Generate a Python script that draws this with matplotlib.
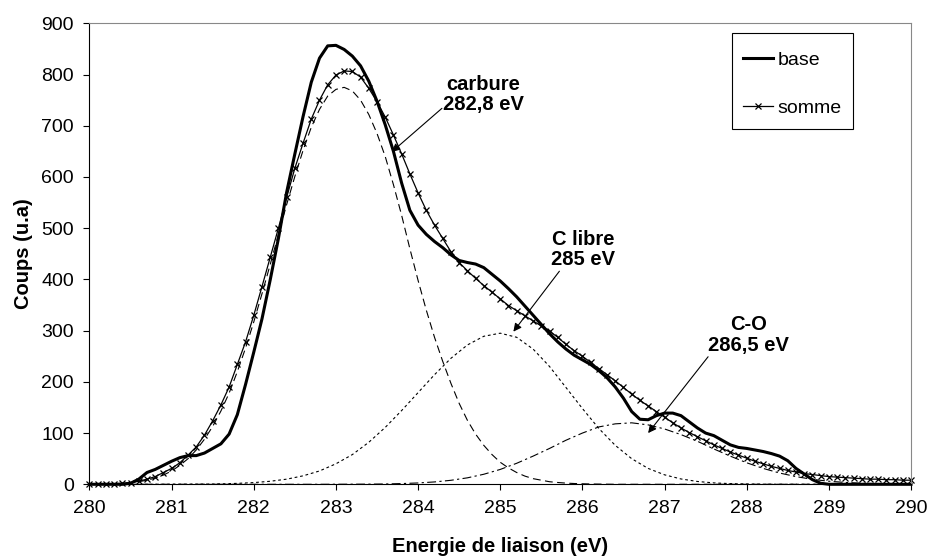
import numpy as np
import matplotlib.pyplot as plt
from matplotlib.patches import Rectangle

plt.rcParams['font.family'] = ['Liberation Sans', 'DejaVu Sans']

# grille en energie (eV)
energie = np.round(np.arange(280.0, 290.05, 0.1), 1)
energie_large = np.round(np.arange(280.0, 290.05, 0.2), 1)

# spectre mesure
base = [0, 0, 0, 0, 0, 2, 10, 23, 29, 37,
        45, 52, 56, 56, 61, 70, 79, 98, 136, 195,
        258, 323, 399, 480, 570, 645, 718, 785, 832, 856,
        857, 849, 836, 817, 787, 748, 702, 650, 588, 535,
        506, 488, 474, 462, 448, 437, 433, 430, 423, 410,
        397, 382, 366, 348, 330, 312, 294, 278, 264, 252,
        243, 234, 222, 208, 190, 168, 142, 127, 126, 134,
        139, 139, 134, 122, 110, 100, 95, 86, 77, 72,
        70, 67, 64, 60, 55, 46, 31, 20, 9, 2,
        0, 0, 0, 0, 0, 0, 0, 0, 0, 0,
        0]

# somme des composantes
somme = [0, 0, 1, 1, 2, 3, 6, 10, 15, 23,
         31, 42, 57, 73, 96, 124, 155, 190, 234, 278,
         330, 386, 443, 500, 560, 617, 666, 713, 750, 780,
         799, 807, 806, 795, 773, 747, 717, 682, 645, 606,
         569, 535, 506, 480, 454, 433, 417, 402, 388, 375,
         362, 349, 339, 329, 319, 309, 299, 287, 273, 261,
         250, 238, 226, 214, 202, 189, 176, 164, 153, 142,
         131, 120, 110, 101, 93, 85, 77, 70, 63, 57,
         51, 45, 40, 35, 31, 27, 24, 21, 19, 17,
         15, 14, 13, 12, 11, 10, 10, 9, 9, 8,
         8]

# composante carbure
carbure = [0, 0, 1, 1, 2, 3, 5, 8, 12, 18,
           26, 37, 50, 67, 88, 113, 143, 178, 220, 266,
           317, 372, 429, 488, 546, 601, 652, 697, 732, 758,
           771, 775, 768, 750, 722, 685, 640, 585, 525, 460,
           398, 340, 287, 240, 197, 158, 125, 98, 76, 58,
           43, 32, 23, 16, 11, 8, 5, 3.5, 2.3, 1.5,
           1, 0.6, 0.4, 0.2, 0, 0, 0, 0, 0, 0,
           0, 0, 0, 0, 0, 0, 0, 0, 0, 0,
           0, 0, 0, 0, 0, 0, 0, 0, 0, 0,
           0, 0, 0, 0, 0, 0, 0, 0, 0, 0,
           0]

# composante C libre (pas de 0,2 eV)
c_libre = [0, 0, 0, 0, 0, 0.1, 0.2, 0.4, 0.9, 1.8,
           3.3, 5.9, 10, 16.5, 26, 40, 58, 82, 111, 144,
           179, 214, 246, 272, 289, 295, 287, 264, 230, 189,
           148, 109, 76, 50, 31, 18.5, 10.4, 5.5, 2.7, 1.3,
           0.6, 0.2, 0.1, 0, 0, 0, 0, 0, 0, 0,
           0]

# composante C-O (pas de 0,2 eV)
c_o = [0, 0, 0, 0, 0, 0, 0, 0, 0, 0,
       0, 0, 0, 0, 0, 0.1, 0.2, 0.3, 0.6, 1.4,
       2.6, 4.6, 7.8, 12.6, 19.6, 29, 41, 55, 70, 86,
       100, 112, 118, 120, 116, 108, 97, 84, 69, 55,
       42, 31, 22, 15, 9.6, 6, 3.6, 2.1, 1.2, 0.6,
       0.3]

fig = plt.figure(figsize=(9.28, 5.58), dpi=100)
ax = fig.add_axes([0.0964, 0.1321, 0.8853, 0.8261])

ax.plot(energie, carbure, color='black', lw=0.8, ls=(0, (7, 4)), clip_on=False)
ax.plot(energie_large, c_libre, color='black', lw=0.8, ls=(0, (2.5, 2.5)), clip_on=False)
ax.plot(energie_large, c_o, color='black', lw=0.8, ls=(0, (8, 3, 2, 3)), clip_on=False)
l_base, = ax.plot(energie, base, color='black', lw=2.2, label='base', clip_on=False)
l_somme, = ax.plot(energie, somme, color='black', lw=0.9, marker='x', ms=4.5, mew=0.9,
                   label='somme', clip_on=False)

ax.set_xlim(280, 290)
ax.set_ylim(0, 900)
ax.set_xticks(range(280, 291))
ax.set_yticks(range(0, 901, 100))
ax.tick_params(direction='out', length=4.3, width=0.8, labelsize=14, pad=7)
for cote in ['top', 'right']:
    ax.spines[cote].set_color('#888888')
for cote in ['left', 'bottom']:
    ax.spines[cote].set_color('black')
    ax.spines[cote].set_linewidth(0.8)

ax.set_xlabel('Energie de liaison (eV)', fontsize=14.5, fontweight='bold', labelpad=14.5)
ax.set_ylabel('Coups (u.a)', fontsize=14.5, fontweight='bold', labelpad=6)

# annotations des pics
fleche = dict(arrowstyle='-|>', lw=0.8, color='black', mutation_scale=12,
              shrinkA=0, shrinkB=0)
ax.annotate('', xy=(283.68, 649), xytext=(284.29, 734), arrowprops=fleche)
ax.annotate('', xy=(285.16, 298), xytext=(285.72, 416), arrowprops=fleche)
ax.annotate('', xy=(286.80, 100), xytext=(287.53, 249), arrowprops=fleche)

ax.text(284.79, 761, 'carbure\n282,8 eV', ha='center', va='center', fontsize=14.5,
        fontweight='bold', linespacing=1.1)
ax.text(286.01, 458, 'C libre\n285 eV', ha='center', va='center', fontsize=14.5,
        fontweight='bold', linespacing=1.1)
ax.text(288.02, 291.5, 'C-O\n286,5 eV', ha='center', va='center', fontsize=14.5,
        fontweight='bold', linespacing=1.1)

# legende : cadre dessine a part
ax.add_patch(Rectangle((0.7821, 0.7707), 0.1473, 0.2083, transform=ax.transAxes,
                       fill=True, facecolor='white', edgecolor='black', lw=0.8,
                       clip_on=False, zorder=4))
leg = ax.legend(handles=[l_base, l_somme], loc='upper right', bbox_to_anchor=(0.9294, 0.9638),
                fontsize=14, frameon=False, borderpad=0.6, labelspacing=1.55,
                handlelength=1.55, handletextpad=0.2, borderaxespad=0)
leg.set_zorder(5)

fig.savefig('out.png', dpi=100)
